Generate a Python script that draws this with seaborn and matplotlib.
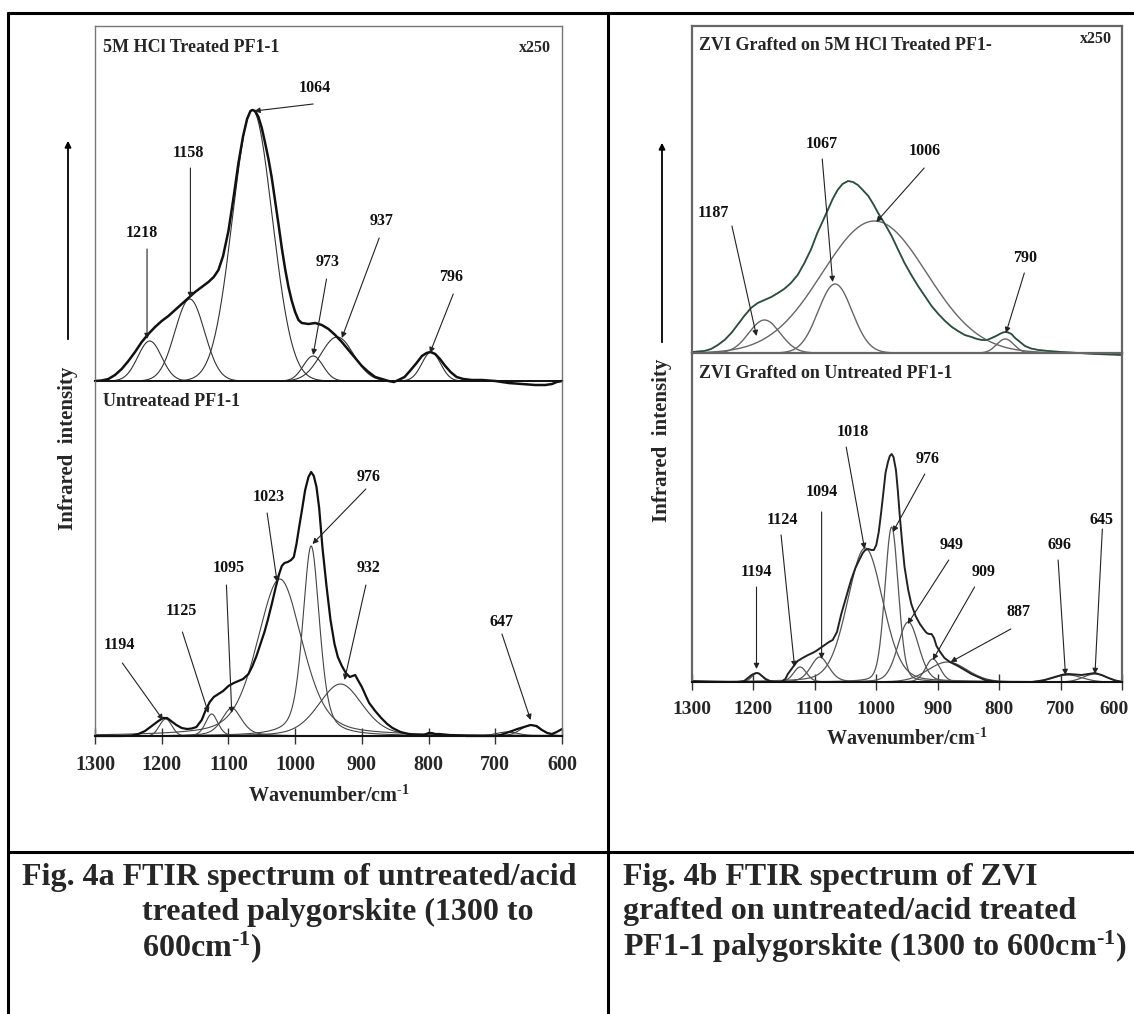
import numpy as np
import pandas as pd
import matplotlib
matplotlib.use("Agg")
import matplotlib.pyplot as plt
from matplotlib.lines import Line2D
from matplotlib.patches import FancyArrowPatch
from matplotlib.transforms import ScaledTranslation
import seaborn as sns

sns.set_theme(style="white")
plt.rcParams['font.family'] = ['Liberation Serif', 'DejaVu Serif']
plt.rcParams['mathtext.fontset'] = 'custom'
plt.rcParams['mathtext.rm'] = 'Liberation Serif:bold'
plt.rcParams['mathtext.bf'] = 'Liberation Serif:bold'
plt.rcParams['mathtext.it'] = 'Liberation Serif:italic'

# ---------------- data (intensity in arbitrary units above each baseline) -------------
# Fig 4a, upper: 5M HCl treated PF1-1 -- measured spectrum
lt_wn = [1300, 1290, 1280, 1270, 1260, 1250, 1240, 1230, 1220, 1210, 1200, 1190, 1180, 1170,
         1160, 1150, 1140, 1130, 1122, 1115, 1108, 1100, 1092, 1085, 1078, 1072, 1067, 1064,
         1060, 1055, 1050, 1045, 1040, 1035, 1030, 1025, 1020, 1015, 1010, 1005, 1000, 995,
         990, 980, 970, 960, 950, 940, 930, 920, 910, 900, 890, 880, 870, 860, 852, 845, 836,
         828, 818, 810, 803, 797, 790, 783, 775, 767, 758, 748, 735, 720, 700, 680, 660, 640,
         625, 615, 608, 600]
lt_int = [0, 0.5, 2, 6, 12, 20, 29, 39, 47, 54, 60, 65, 71, 77,
          83, 89, 94, 99, 104, 111, 125, 150, 185, 218, 245, 262, 270, 271,
          270, 264, 253, 238, 222, 203, 180, 157, 133, 112, 94, 80, 69, 61,
          58, 57, 58, 56, 52, 46, 39, 31, 23, 15, 9, 4, 2, 0, -1, 1, 4,
          10, 18, 25, 28, 29, 27, 22, 15, 9, 4, 2, 1, 1, 0, -2, -3, -4,
          -4, -3, -1, 0]
# fitted bands: centre, height, FWHM, Lorentzian fraction
lt_pos = [1218, 1158, 1064, 973, 937, 796]
lt_hgt = [40, 82, 271, 25, 44, 29]
lt_fwhm = [42, 52, 70, 35, 58, 33]
lt_eta = [0, 0, 0, 0, 0, 0]

# Fig 4a, lower: untreated PF1-1
lb_wn = [1300, 1260, 1245, 1235, 1225, 1215, 1205, 1198, 1192, 1186, 1178, 1170, 1162, 1155,
         1148, 1140, 1134, 1128, 1122, 1115, 1108, 1100, 1092, 1085, 1078, 1070, 1064, 1058,
         1052, 1046, 1041, 1035, 1029, 1024, 1020, 1016, 1011, 1006, 1002, 998, 994, 990, 985,
         980, 976, 972, 968, 964, 959, 953, 947, 941, 936, 930, 924, 918, 914, 910, 906, 900,
         894, 889, 880, 871, 862, 854, 842, 830, 818, 807, 800, 795, 790, 784, 770, 743, 702,
         692, 684, 675, 667, 657, 647, 638, 630, 622, 615, 608, 600]
lb_int = [0, 0, 0.5, 2, 5, 10, 15, 18, 18, 15, 11, 8, 7, 7.5,
          9, 16, 26, 34, 39, 42, 45, 50, 53, 55, 57, 62, 70, 80,
          92, 104, 116, 132, 149, 162, 170, 173, 174, 176, 179, 192, 209, 225, 246,
          259, 264, 260, 249, 228, 188, 150, 116, 92, 79, 70, 63, 59, 60, 61, 56, 49,
          40, 33, 25, 18, 12, 8, 4, 2, 1, 1, 3, 3, 2, 2, 1, 0, 0,
          1, 3, 5, 7, 9, 11, 10, 6, 3, 2, 4, 7]
lb_pos = [1194, 1125, 1095, 1023, 976, 932, 647, 682]
lb_hgt = [17, 22, 28, 157, 190, 52, 11, 4]
lb_fwhm = [22, 22, 35, 80, 30, 78, 35, 40]
lb_eta = [0, 0.3, 0.5, 0.4, 0.5, 0.3, 0.2, 0.2]

# Fig 4b, upper: ZVI grafted on 5M HCl treated PF1-1
rt_wn = [1300, 1280, 1269, 1258, 1247, 1236, 1226, 1215, 1204, 1193, 1182, 1171, 1160, 1150,
         1139, 1128, 1117, 1106, 1096, 1087, 1079, 1071, 1063, 1055, 1046, 1038, 1030, 1022,
         1013, 1005, 997, 986, 975, 965, 954, 943, 932, 921, 910, 899, 888, 877, 867, 856,
         845, 836, 828, 820, 812, 805, 799, 794, 790, 785, 780, 774, 766, 758, 748, 736, 720,
         698, 670, 644, 620, 600]
rt_int = [1, 2, 4, 8, 13, 20, 28, 37, 45, 50, 53, 56, 60, 64,
          70, 78, 90, 104, 120, 132, 143, 154, 163, 169, 172, 171, 168, 163,
          157, 149, 140, 129, 117, 104, 90, 78, 67, 57, 47, 39, 32, 26, 22, 18,
          16, 14, 13, 13, 15, 17, 19, 20.5, 21, 20.5, 19, 15, 11, 7, 4.5, 3, 2,
          1, 0, -1, -1.5, -2]
rt_pos = [1182, 1067, 1003, 790]
rt_hgt = [33, 69, 132, 14]
rt_fwhm = [60, 65, 200, 33]
rt_eta = [0, 0, 0, 0]

# Fig 4b, lower: ZVI grafted on untreated PF1-1
rb_wn = [1300, 1240, 1226, 1215, 1209, 1203, 1198, 1195, 1191, 1186, 1180, 1173, 1165, 1155,
         1148, 1144, 1138, 1132, 1128, 1120, 1111, 1104, 1098, 1091, 1084, 1077, 1071, 1064,
         1057, 1049, 1041, 1034, 1027, 1022, 1018, 1013, 1008, 1004, 1000, 996, 992, 988, 985,
         981, 978, 975, 972, 968, 965, 962, 958, 954, 948, 943, 936, 929, 922, 918, 914, 910,
         906, 902, 896, 889, 880, 867, 856, 845, 834, 823, 812, 802, 780, 747, 735, 726, 715,
         704, 695, 687, 676, 666, 655, 644, 633, 622, 611, 600]
rb_int = [1, 0, 0, 1, 4, 7, 8.5, 9, 8.5, 6, 3, 1, 0, 0,
          3, 8, 13, 18, 21, 24, 27, 29, 31, 34, 37, 40, 42, 50,
          68, 85, 102, 114, 123, 129, 132, 133, 132, 132, 137, 150, 170, 192, 209,
          220, 226, 228, 225, 212, 192, 168, 140, 115, 92, 78, 66, 58, 52, 49, 48, 48,
          44, 36, 30, 24, 20, 16, 12, 8, 5, 2, 1, 0, 0, 0, 1, 2, 4,
          6, 7.5, 8, 7.5, 7, 8, 9, 7, 4, 1.5, 0]
rb_pos = [1194, 1124, 1092, 1018, 975, 948, 908, 884, 688, 644]
rb_hgt = [9, 15, 25, 134, 155, 60, 23, 20, 7, 8]
rb_fwhm = [20, 25, 35, 68, 26, 40, 28, 75, 55, 45]
rb_eta = [0, 0.2, 0.3, 0.2, 0.2, 0.2, 0.2, 0.1, 0, 0]

# peak annotations: label, text pos (wn, int), arrow tail, arrow head
lt_labels = ["1064", "1158", "1218", "973", "937", "796"]
lt_text = [(970, 293), (1160, 228), (1230, 148), (951, 119), (871, 160), (766, 104)]
lt_tail = [(973, 277), (1157, 213), (1222, 132), (953, 102), (874, 143), (763, 87)]
lt_head = [(1061, 270), (1157, 83), (1222, 42), (973, 26), (930, 43), (798, 28)]

lb_labels = ["1194", "1125", "1095", "1023", "976", "932", "647"]
lb_text = [(1263, 91), (1170, 125), (1100, 168), (1040, 239), (890, 259), (890, 168), (690, 114)]
lb_tail = [(1259, 73), (1169, 104), (1103, 151), (1042, 223), (894, 247), (894, 151), (690, 102)]
lb_head = [(1198, 16), (1130, 23), (1095, 23), (1027, 154), (974, 192), (926, 56), (647, 16)]

rt_labels = ["1187", "1067", "1006", "790"]
rt_text = [(1265, 140), (1088, 209), (921, 202), (758, 95)]
rt_tail = [(1235, 127), (1088, 194), (922, 185), (759, 80)]
rt_head = [(1195, 17), (1071, 71), (1000, 131), (789, 20)]

rb_labels = ["1194", "1124", "1094", "1018", "976", "949", "909", "887", "696", "645"]
rb_text = [(1195, 110), (1153, 162), (1089, 190), (1039, 250), (917, 223), (878, 137),
           (826, 110), (769, 70), (701, 137), (634, 162)]
rb_tail = [(1195, 95), (1155, 147), (1089, 170), (1049, 235), (921, 208), (882, 122),
           (840, 95), (781, 53), (704, 122), (632, 153)]
rb_head = [(1195, 13), (1133, 15), (1089, 23), (1019, 133), (973, 150), (949, 58),
           (908, 22), (879, 20), (692, 7), (644, 8)]

xticks = [1300, 1200, 1100, 1000, 900, 800, 700, 600]
titles = ["5M HCl Treated PF1-1", "Untreatead PF1-1",
          "ZVI Grafted on 5M HCl Treated PF1-", "ZVI Grafted on Untreated PF1-1"]
captions_a = ["Fig. 4a FTIR spectrum of untreated/acid", "treated palygorskite (1300 to",
              r"600cm$^{\text{-1}}$)"]
captions_b = ["Fig. 4b FTIR spectrum of ZVI", "grafted on untreated/acid treated",
              r"PF1-1 palygorskite (1300 to 600cm$^{\text{-1}}$)"]

# ---------------- figure --------------------------------------------------------------
W, H = 1134, 1014
fig = plt.figure(figsize=(W / 100, H / 100), dpi=100)


def fx(px):
    return px / W


def fy(py):
    return 1 - py / H


def add_axes(x0, x1, y_top, y_bot):
    return fig.add_axes([fx(x0), fy(y_bot), fx(x1) - fx(x0), (y_bot - y_top) / H])


grid = np.linspace(600, 1300, 1401)


def band(c, h, w, eta):
    d = (grid - c) / w
    return h * ((1 - eta) * np.exp(-4 * np.log(2) * d ** 2) + eta / (1 + 4 * d ** 2))


def draw(ax, wn, inten, pos, hgt, fwhm, eta, tot_color, comp_color, tot_lw, comp_lw,
         labels, text, tail, head, extra=None):
    for c, h, w, e in zip(pos, hgt, fwhm, eta):
        sns.lineplot(x=grid, y=band(c, h, w, e), ax=ax, color=comp_color, lw=comp_lw,
                     sort=False, clip_on=False)
    if extra is not None:
        sns.lineplot(x=wn, y=inten, ax=ax, color=extra, lw=1.3, sort=False, clip_on=False)
    sns.lineplot(x=wn, y=inten, ax=ax, color=tot_color, lw=tot_lw, sort=False, clip_on=False,
                 solid_joinstyle='round')
    for lab, t, a, b in zip(labels, text, tail, head):
        ax.text(t[0], t[1], lab, ha='center', va='center', fontsize=11.5, fontweight='bold',
                color='#111111')
        ax.annotate('', xy=b, xytext=a,
                    arrowprops=dict(arrowstyle='-|>', color='#222222', lw=0.8,
                                    mutation_scale=8, shrinkA=0, shrinkB=0))


def style(ax, ylim, spine_col, spine_lw, bottom=False, tsize=14.5):
    ax.set_xlim(1300, 600)
    ax.set_ylim(*ylim)
    ax.set_yticks([])
    ax.set_ylabel('')
    for s in ['top', 'left', 'right', 'bottom']:
        ax.spines[s].set_color(spine_col)
        ax.spines[s].set_linewidth(spine_lw)
    if bottom:
        ax.set_xticks(xticks)
        ax.set_xticklabels([str(t) for t in xticks], fontsize=tsize, fontweight='bold')
        ax.tick_params(axis='x', direction='inout', length=12, width=1.0, color='#333333',
                       pad=8, bottom=True)
        ax.spines['bottom'].set_color('#111111')
        ax.spines['bottom'].set_linewidth(1.5)
    else:
        ax.set_xticks([])
    ax.set_xlabel('')


# Fig 4a
ax1 = add_axes(95, 562, 26, 381)
ax2 = add_axes(95, 562, 381, 736)
ax1.patch.set_alpha(0)
ax2.patch.set_alpha(0)
draw(ax1, lt_wn, lt_int, lt_pos, lt_hgt, lt_fwhm, lt_eta, '#111111', '#333333', 1.8, 0.8,
     lt_labels, lt_text, lt_tail, lt_head)
draw(ax2, lb_wn, lb_int, lb_pos, lb_hgt, lb_fwhm, lb_eta, '#111111', '#444444', 1.6, 0.8,
     lb_labels, lb_text, lb_tail, lb_head)
style(ax1, (0, 355), '#777777', 1.0)
ax1.spines['bottom'].set_color('#111111')
ax1.spines['bottom'].set_linewidth(1.3)
style(ax2, (0, 355), '#777777', 1.0, bottom=True)
ax2.spines['top'].set_visible(False)
ax1.text(1288, 333, titles[0], ha='left', va='center', fontsize=13, fontweight='bold')
ax1.text(617, 333, 'x250', ha='right', va='center', fontsize=11.5, fontweight='bold')
ax2.text(1288, 334, titles[1], ha='left', va='center', fontsize=13, fontweight='bold')
ax2.set_xlabel(r'Wavenumber/cm$^{\text{-1}}$', fontsize=14.5, fontweight='bold', labelpad=7)

# Fig 4b
ax3 = add_axes(692, 1122, 26, 353)
ax4 = add_axes(692, 1122, 353, 682)
ax3.patch.set_alpha(0)
ax4.patch.set_alpha(0)
draw(ax3, rt_wn, rt_int, rt_pos, rt_hgt, rt_fwhm, rt_eta, '#2f4a3b', '#666666', 1.2, 1.0,
     rt_labels, rt_text, rt_tail, rt_head, extra='#8cc4a6')
draw(ax4, rb_wn, rb_int, rb_pos, rb_hgt, rb_fwhm, rb_eta, '#222222', '#555555', 1.4, 0.9,
     rb_labels, rb_text, rb_tail, rb_head)
style(ax3, (0, 327), '#666666', 1.6)
style(ax4, (0, 329), '#666666', 1.6, bottom=True, tsize=14)
ax4.spines['top'].set_visible(False)
last = ax4.get_xticklabels()[-1]
last.set_transform(last.get_transform() + ScaledTranslation(-6 / 72, 0, fig.dpi_scale_trans))
ax3.text(1288, 308, titles[2], ha='left', va='center', fontsize=13, fontweight='bold')
ax3.text(616, 314, 'x250', ha='right', va='center', fontsize=11.5, fontweight='bold')
ax4.text(1288, 308, titles[3], ha='left', va='center', fontsize=13, fontweight='bold')
ax4.set_xlabel(r'Wavenumber/cm$^{\text{-1}}$', fontsize=14.5, fontweight='bold', labelpad=7)

# y labels and arrows
for xl, yc, y0, y1 in [(68, 448, 342, 138), (662, 440, 345, 140)]:
    fig.text(fx(xl), fy(yc), 'Infrared  intensity', rotation=90, ha='center', va='center',
             fontsize=15, fontweight='bold')
    fig.add_artist(FancyArrowPatch((fx(xl), fy(y0)), (fx(xl), fy(y1)),
                                   transform=fig.transFigure, arrowstyle='-|>',
                                   mutation_scale=9, lw=1.3, color='black'))

# table frame
lines = [((8, W), (13, 13)), ((8, 8), (13, H)), ((608, 608), (13, H)), ((8, W), (852, 852))]
for xs, ys in lines:
    fig.add_artist(Line2D([fx(v) for v in xs], [fy(v) for v in ys], color='black', lw=2.2,
                          transform=fig.transFigure))

# captions
for i, (txt, x0) in enumerate(zip(captions_a, [22, 142, 142])):
    fig.text(fx(x0), fy(877 + 35 * i), txt, ha='left', va='center', fontsize=23,
             fontweight='bold')
for i, txt in enumerate(captions_b):
    fig.text(fx(623), fy(877 + 35 * i), txt, ha='left', va='center', fontsize=23,
             fontweight='bold')

fig.savefig('out.png', dpi=100)
